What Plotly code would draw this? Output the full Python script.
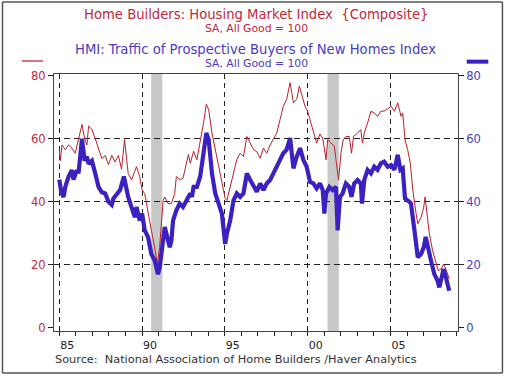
import plotly.graph_objects as go

# ---- data (decimal years) ----
hmi_t = [1985.00, 1985.06, 1985.16, 1985.36, 1985.56, 1985.76, 1985.96, 1986.16, 1986.37, 1986.53,
         1986.67, 1986.77, 1986.97, 1987.17, 1987.37, 1987.57, 1987.77, 1987.97, 1988.17, 1988.37,
         1988.57, 1988.76, 1988.94, 1989.06, 1989.16, 1989.36, 1989.66, 1989.86, 1990.00, 1990.16,
         1990.36, 1990.56, 1990.76, 1990.92, 1991.06, 1991.27, 1991.37, 1991.57, 1991.77, 1991.97,
         1992.07, 1992.27, 1992.47, 1992.67, 1992.80, 1992.91, 1993.11, 1993.31, 1993.51, 1993.71,
         1993.88, 1994.02, 1994.22, 1994.42, 1994.62, 1994.82, 1995.02, 1995.12, 1995.32, 1995.52,
         1995.72, 1995.92, 1996.12, 1996.33, 1996.53, 1996.73, 1996.93, 1997.13, 1997.33, 1997.53,
         1997.73, 1997.93, 1998.13, 1998.33, 1998.53, 1998.73, 1998.94, 1999.14, 1999.34, 1999.50,
         1999.70, 1999.84, 2000.00, 2000.14, 2000.34, 2000.54, 2000.74, 2000.91, 2001.11, 2001.21,
         2001.41, 2001.61, 2001.71, 2001.87, 2002.01, 2002.15, 2002.31, 2002.51, 2002.65, 2002.77,
         2003.01, 2003.21, 2003.31, 2003.42, 2003.62, 2003.82, 2004.02, 2004.22, 2004.42, 2004.62,
         2004.84, 2005.04, 2005.24, 2005.44, 2005.64, 2005.74, 2005.88, 2006.04, 2006.20, 2006.35,
         2006.55, 2006.65, 2006.85, 2007.01, 2007.09, 2007.21, 2007.35, 2007.55, 2007.75, 2007.89,
         2008.05, 2008.21, 2008.35, 2008.45, 2008.55]
hmi_v = [56.5, 53, 58, 56.5, 58, 57, 55.4, 59.7, 64.5, 60,
         58, 64, 63, 60, 56.5, 53.7, 54.7, 51.7, 54.7, 52.6,
         54.7, 50.3, 59.7, 54.3, 49, 46.9, 51.1, 47.9, 43.7, 42.6,
         36.2, 30.9, 25.5, 20.2, 25.5, 40.4, 41.5, 39.4, 39.4, 42.6,
         48, 47, 47.4, 52, 55, 52.2, 56, 53.3, 58.6, 65,
         70.9, 69.3, 61.8, 56.5, 52.2, 46.9, 41, 40.4, 44.7, 49,
         53.3, 55.4, 54.3, 60.7, 58.6, 56.5, 55.9, 53.8, 57, 55.4,
         58, 59.7, 61.8, 66, 70.3, 72.5, 77.8, 71.4, 72.5, 76.7,
         72.5, 70.3, 68.7, 66, 62.9, 58.6, 61.5, 60.2, 53.3, 59.7,
         58.6, 57.6, 53.3, 46.9, 55.4, 59.7, 60.7, 60.7, 55.4, 60.7,
         61.8, 62.9, 58.6, 61.8, 65, 68.7, 68.2, 67.1, 68.7, 68.8,
         69.5, 70.3, 68.7, 71.4, 67.1, 68.2, 59.7, 56.5, 52.2, 43.7,
         36.2, 33, 35.1, 38.3, 41.5, 36.2, 29.8, 24.4, 20.2, 18.1,
         18.6, 20.2, 18.6, 17, 15.5]

traffic_t = [1985.00, 1985.12, 1985.26, 1985.36, 1985.56, 1985.76, 1985.86, 1986.06, 1986.16, 1986.37,
             1986.53, 1986.67, 1986.77, 1986.97, 1987.17, 1987.37, 1987.57, 1987.77, 1987.97, 1988.17,
             1988.27, 1988.47, 1988.67, 1988.90, 1989.16, 1989.36, 1989.56, 1989.66, 1989.86, 1990.00,
             1990.16, 1990.36, 1990.56, 1990.76, 1990.96, 1991.06, 1991.27, 1991.37, 1991.57, 1991.67,
             1991.77, 1991.87, 1992.07, 1992.27, 1992.47, 1992.67, 1992.91, 1993.01, 1993.11, 1993.31,
             1993.51, 1993.71, 1993.88, 1994.02, 1994.22, 1994.42, 1994.62, 1994.82, 1995.02, 1995.12,
             1995.32, 1995.52, 1995.72, 1995.92, 1996.12, 1996.33, 1996.53, 1996.73, 1996.93, 1997.13,
             1997.33, 1997.53, 1997.73, 1997.93, 1998.13, 1998.33, 1998.53, 1998.73, 1998.94, 1999.04,
             1999.14, 1999.34, 1999.54, 1999.74, 1999.94, 2000.14, 2000.34, 2000.54, 2000.74, 2000.91,
             2001.01, 2001.11, 2001.31, 2001.51, 2001.71, 2001.81, 2001.95, 2002.11, 2002.31, 2002.51,
             2002.65, 2002.81, 2003.01, 2003.21, 2003.28, 2003.42, 2003.62, 2003.82, 2004.02, 2004.22,
             2004.42, 2004.62, 2004.84, 2005.04, 2005.24, 2005.44, 2005.60, 2005.74, 2005.88, 2006.14,
             2006.24, 2006.45, 2006.65, 2006.85, 2007.01, 2007.13, 2007.25, 2007.45, 2007.65, 2007.85,
             2007.95, 2008.09, 2008.21, 2008.35, 2008.45, 2008.55]
traffic_v = [47, 43, 41.5, 44.7, 48, 50, 47, 50, 49, 60,
             53, 54.3, 52, 53, 49, 44.7, 43, 42.6, 40, 39,
             41, 42.6, 43.7, 48, 41.5, 38.3, 35.1, 38.3, 34, 36.2,
             30.9, 28.8, 23.4, 21.3, 17, 19, 29.8, 32, 27.7, 25.5,
             27.7, 34, 37.3, 39.4, 38.3, 40.4, 42.6, 41.5, 44.7, 44.7,
             48, 55.4, 61.8, 59.7, 49, 42.6, 39.4, 36.2, 26.6, 29.8,
             34, 40.4, 42.6, 41.5, 42.6, 49, 46.9, 44.7, 43.2, 45.8,
             43.7, 45.8, 46.9, 49, 51.1, 53.3, 55.4, 56.5, 60.2, 55.4,
             50.6, 54.3, 57, 53.3, 51.1, 46.3, 45.8, 44.2, 45.8, 43.7,
             36.2, 42.6, 44.7, 43.7, 44.7, 30.9, 41.5, 42.6, 45.8, 44.7,
             41.5, 45.8, 46.9, 45.8, 39.4, 46.9, 50.1, 49, 51.1, 50.1,
             52.2, 52.7, 51.1, 51.6, 50.1, 54.9, 50.1, 50.6, 41, 40,
             39.4, 30.9, 22.4, 23.4, 25.5, 28.8, 25.5, 21.3, 17, 14.9,
             12.8, 16, 18.6, 16, 13.8, 11.7]

recession_start = [1990.55, 2001.20]
recession_end = [1991.22, 2001.88]

x_tick_years = [1985, 1990, 1995, 2000, 2005]
x_tick_labels = ["85", "90", "95", "00", "05"]
y_ticks = [0, 20, 40, 60, 80]
y_grid = [20, 40, 60]

RED = "#b8202c"
BLUE = "#3b22c0"
RED_TXT = "#c0283a"
BLUE_TXT = "#4a3cc0"
FONT = "DejaVu Sans, Verdana, sans-serif"

fig = go.Figure()
fig.add_trace(go.Scatter(x=traffic_t, y=traffic_v, mode="lines", yaxis="y2",
                         line=dict(color=BLUE, width=4.2), hoverinfo="skip"))
fig.add_trace(go.Scatter(x=hmi_t, y=hmi_v, mode="lines",
                         line=dict(color=RED, width=1), hoverinfo="skip"))
# helper trace so gridline axis is drawn
fig.add_trace(go.Scatter(x=[None], y=[None], yaxis="y3", mode="lines", hoverinfo="skip"))

for s, e in zip(recession_start, recession_end):
    fig.add_shape(type="rect", xref="x", yref="paper", x0=s, x1=e, y0=0, y1=1,
                  fillcolor="#c8c8c8", line=dict(width=0), layer="below")

yr = [-1.05, 80.54]
fig.update_layout(
    width=510, height=376,
    margin=dict(l=54, r=52, t=74, b=45),
    paper_bgcolor="white", plot_bgcolor="rgba(0,0,0,0)",
    showlegend=False,
    font=dict(family=FONT, size=12, color="#222"),
    xaxis=dict(range=[1984.68, 2009.08], tickmode="array", tickvals=x_tick_years,
               ticktext=x_tick_labels, ticks="outside", ticklen=4, tickcolor="#222",
               ticklabelshift=8, ticklabelstandoff=0,
               showgrid=True, gridcolor="#222", griddash="5px,4px", gridwidth=1.2,
               showline=True, linecolor="#444", linewidth=1.2, mirror=True,
               zeroline=False, tickfont=dict(size=11, color="#222"),
               minor=dict(tick0=1985, dtick=1, ticks="outside", ticklen=4, tickcolor="#222",
                          showgrid=False)),
    yaxis=dict(range=yr, tickmode="array", tickvals=y_ticks, ticks="outside", ticklen=5,
               tickcolor="#222", showgrid=False, zeroline=False,
               showline=True, linecolor="#444", linewidth=1.2, mirror=True,
               tickfont=dict(size=11.5, color=RED_TXT)),
    yaxis2=dict(range=yr, overlaying="y", side="right", tickmode="array", tickvals=y_ticks,
                ticks="outside", ticklen=5, tickcolor="#222", showgrid=False, zeroline=False,
                showline=False, tickfont=dict(size=11.5, color=BLUE_TXT)),
    yaxis3=dict(range=yr, overlaying="y", tickmode="array", tickvals=y_grid,
                showticklabels=False, ticks="", showgrid=True, gridcolor="#222",
                griddash="6px,4px", gridwidth=1.2, zeroline=False, showline=False),
)

def ann(text, x, y, size, color, xanchor="center"):
    fig.add_annotation(text=text, xref="paper", yref="paper", x=x, y=y, showarrow=False,
                       xanchor=xanchor, yanchor="middle", borderpad=0,
                       font=dict(family=FONT, size=size, color=color))

ann("Home Builders: Housing Market Index  {Composite}", 0.500, 1.2323, 13.2, RED_TXT)
ann("SA, All Good = 100", 0.500, 1.1778, 10.8, RED_TXT)
ann("HMI: Traffic of Prospective Buyers of New Homes Index", 0.499, 1.0934, 13.2, BLUE_TXT)
ann("SA, All Good = 100", 0.500, 1.0420, 10.8, BLUE_TXT)
ann("Source:  National Association of Home Builders /Haver Analytics", 0.0, -0.109, 11.3, "#333", "left")

# legend line samples
fig.add_shape(type="line", xref="paper", yref="paper", x0=-0.0792, x1=-0.0272, y0=1.0506, y1=1.0506,
              line=dict(color=RED, width=1.2))
fig.add_shape(type="line", xref="paper", yref="paper", x0=1.0215, x1=1.075, y0=1.048, y1=1.048,
              line=dict(color=BLUE, width=4))
# outer frame (four edges)
fx0, fx1, fy0, fy1 = -0.1275, 1.110, -0.1634, 1.280
for (a, b, c, d) in [(fx0, fy0, fx1, fy0), (fx0, fy1, fx1, fy1), (fx0, fy0, fx0, fy1), (fx1, fy0, fx1, fy1)]:
    fig.add_shape(type="line", xref="paper", yref="paper", x0=a, y0=b, x1=c, y1=d,
                  line=dict(color="#555", width=1.5))

fig.write_html("out.html", config={"displayModeBar": False},
               post_script="document.body.style.margin='0';document.body.style.overflow='hidden';")
